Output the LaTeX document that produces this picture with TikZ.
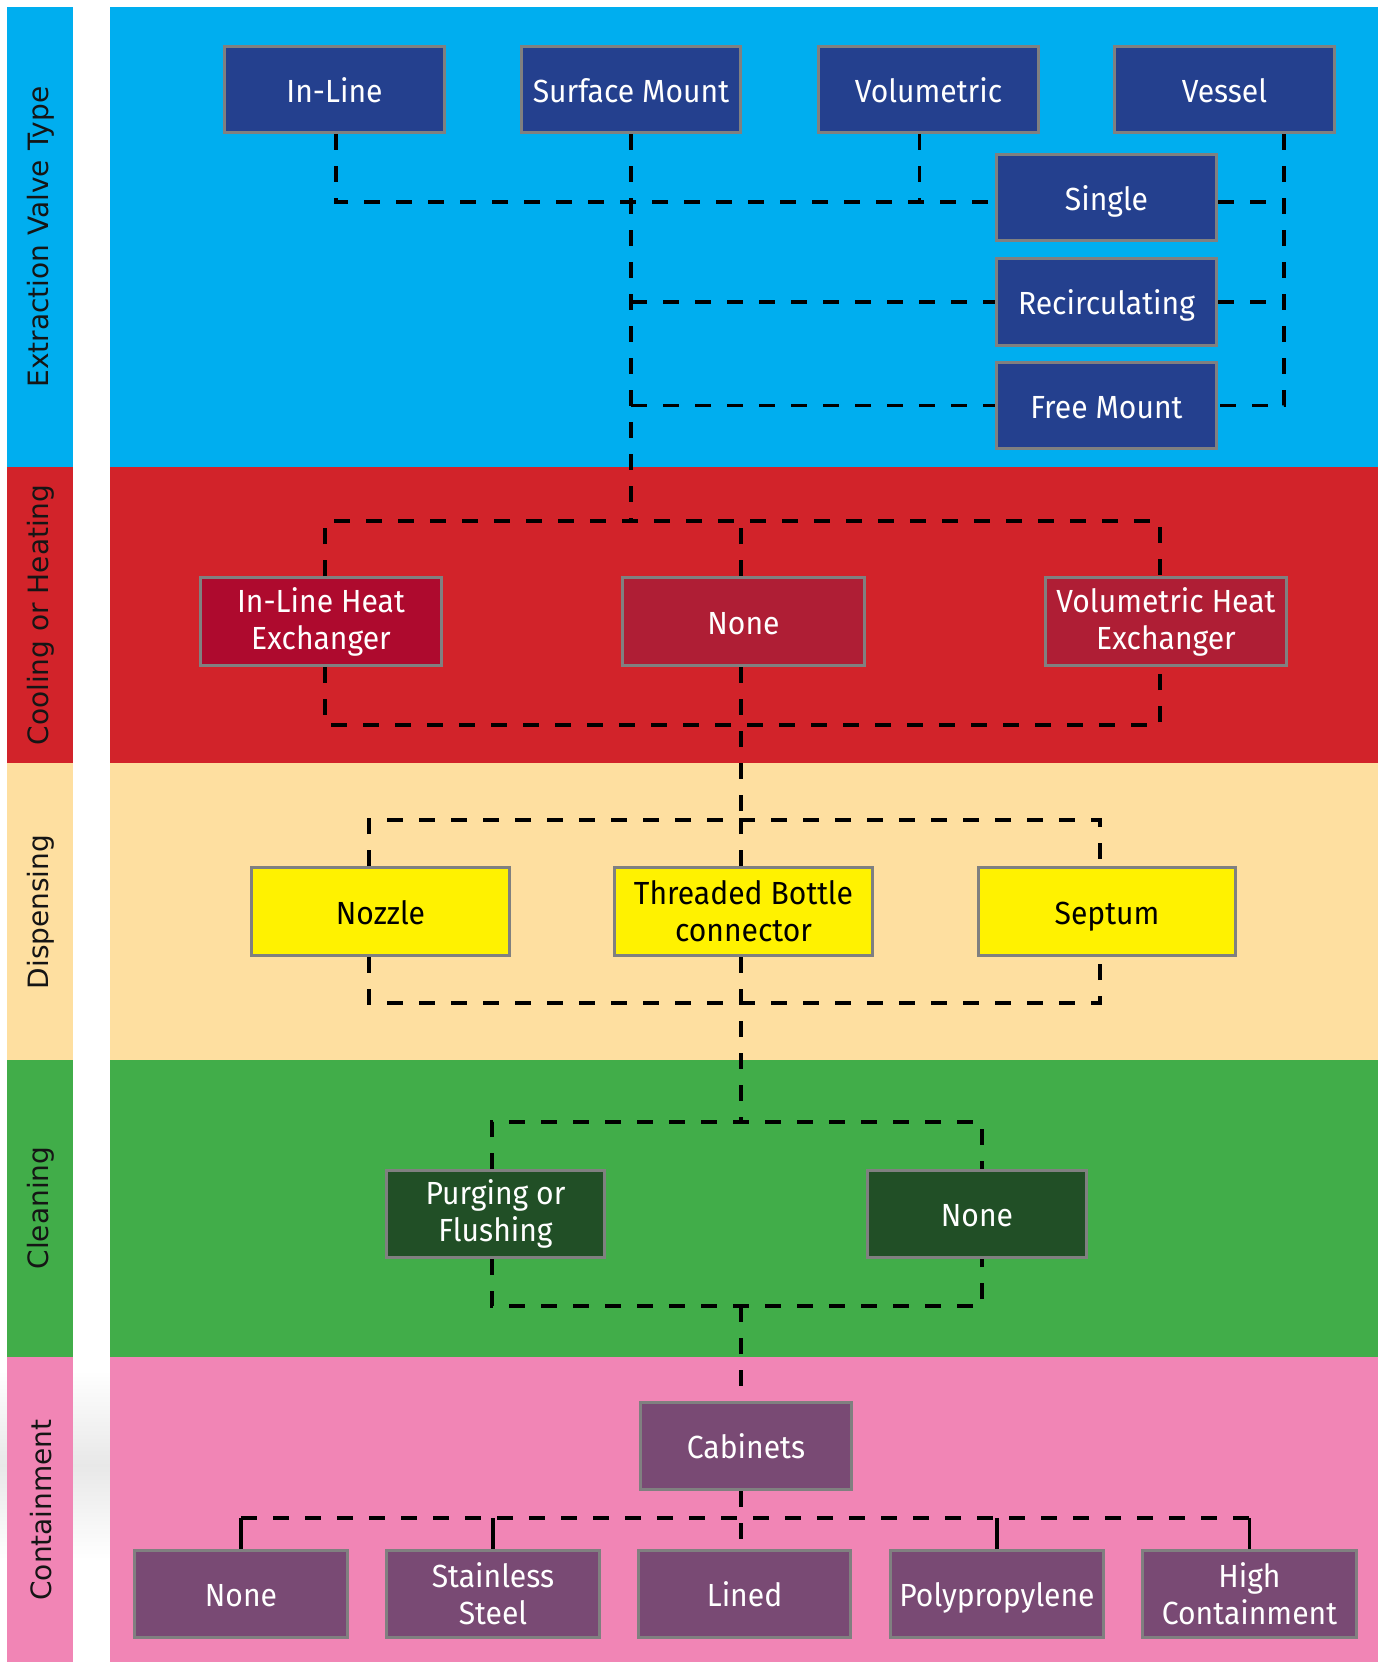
\documentclass[tikz,border=0pt]{standalone}
\usepackage{fontspec}
\setmainfont[FakeStretch=0.94]{Fira Sans}
\newfontfamily\labelfont{DejaVu Sans}
\definecolor{bandblue}{HTML}{00AEEF}
\definecolor{bandred}{HTML}{D2232A}
\definecolor{bandyellow}{HTML}{FEDFA0}
\definecolor{bandgreen}{HTML}{41AD49}
\definecolor{bandpink}{HTML}{F185B5}
\definecolor{boxblue}{HTML}{24408E}
\definecolor{boxredA}{HTML}{AE0A2E}
\definecolor{boxredB}{HTML}{AF1E35}
\definecolor{boxyellow}{HTML}{FFF200}
\definecolor{boxgreen}{HTML}{214F26}
\definecolor{boxpurple}{HTML}{794A74}
\definecolor{boxgray}{HTML}{808080}
\definecolor{labeltext}{HTML}{151515}
\begin{document}
\begin{tikzpicture}[x=0.5pt,y=-0.5pt,
  sz/.style 2 args={minimum width=(#1-3)*0.5pt, minimum height=(#2-3)*0.5pt},
  anybox/.style={draw=boxgray, line width=1.5pt, inner sep=1pt, align=center,
    font=\fontsize{16}{18.5}\selectfont, text=white},
  oneline/.style={text height=12.5pt, text depth=0pt},
  bluebox/.style={anybox, fill=boxblue},
  redboxA/.style={anybox, fill=boxredA},
  redboxB/.style={anybox, fill=boxredB},
  yelbox/.style={anybox, fill=boxyellow, text=black},
  grnbox/.style={anybox, fill=boxgreen},
  purbox/.style={anybox, fill=boxpurple},
  sidelabel/.style={rotate=90, text=labeltext, inner sep=0pt,
    font=\labelfont\fontsize{14}{16}\selectfont},
  dashline/.style={line width=1.6pt, dash pattern=on 8pt off 8pt},
  stubline/.style={line width=1.6pt}]
\useasboundingbox (0,0) rectangle (1378,1662);
\fill[white] (0,0) rectangle (1378,1662);
\shade[top color=white, bottom color=white, middle color=black!9] (0,1370) rectangle (110,1560);
% bands
\fill[bandblue] (7,7) rectangle (73,467);
\fill[bandblue] (110,7) rectangle (1378,467);
\fill[bandred] (7,467) rectangle (73,763);
\fill[bandred] (110,467) rectangle (1378,763);
\fill[bandyellow] (7,763) rectangle (73,1060);
\fill[bandyellow] (110,763) rectangle (1378,1060);
\fill[bandgreen] (7,1060) rectangle (73,1357);
\fill[bandgreen] (110,1060) rectangle (1378,1357);
\fill[bandpink] (7,1357) rectangle (73,1662);
\fill[bandpink] (110,1357) rectangle (1378,1662);
% side labels
\node[sidelabel] (labA) at (41,237) {Extraction Valve Type};
\node[sidelabel] (labB) at (41,615) {Cooling or Heating};
\node[sidelabel] (labC) at (41,912) {Dispensing};
\node[sidelabel] (labD) at (41,1208) {Cleaning};
\node[sidelabel] (labE) at (41,1510) {Containment};
% helper coordinates
\coordinate (xin) at (336,0);
\coordinate (xsm) at (631,0);
\coordinate (xvol) at (919.5,0);
\coordinate (xves) at (1284,0);
\coordinate (ysgl) at (0,202);
\coordinate (xC) at (741,0);
\coordinate (xL1) at (325,0);
\coordinate (xR1) at (1160,0);
\coordinate (yt1) at (0,521);
\coordinate (yb1) at (0,725);
\coordinate (xL2) at (369,0);
\coordinate (xR2) at (1100,0);
\coordinate (yt2) at (0,820);
\coordinate (yb2) at (0,1003);
\coordinate (xL3) at (492,0);
\coordinate (xR3) at (982,0);
\coordinate (yt3) at (0,1122);
\coordinate (yb3) at (0,1306);
\coordinate (yb4) at (0,1518);
% top section nodes
\node[bluebox, oneline, sz={223}{89}] (inl) at (334.5,89.5) {In-Line};
\node[bluebox, oneline, sz={222}{89}] (sm) at (631,89.5) {Surface Mount};
\node[bluebox, oneline, sz={223}{89}] (vol) at (928.5,89.5) {Volumetric};
\node[bluebox, oneline, sz={223}{89}] (ves) at (1224.5,89.5) {Vessel};
\node[bluebox, oneline, sz={223}{89}] (sgl) at (1106.5,197.5) {Single};
\node[bluebox, oneline, sz={223}{90}] (rec) at (1106.5,302) {Recirculating};
\node[bluebox, oneline, sz={223}{89}] (fm) at (1106.5,405.5) {Free Mount};
% top connectors
\draw[dashline] (inl.south -| xin) |- (sgl.west |- ysgl);
\draw[dashline] (vol.south -| xvol) -- (ysgl -| xvol);
\draw[dashline] (sm.south -| xsm) -- (yt1 -| xsm);
\draw[dashline] (rec.west -| xsm) -- (rec.west);
\draw[dashline] (fm.west -| xsm) -- (fm.west);
\draw[dashline] (ves.south -| xves) -- (fm.east -| xves) -- (fm.east);
\draw[dashline] (sgl.east |- ysgl) -- (ysgl -| xves);
\draw[dashline] (rec.east) -- (rec.east -| xves);
% cooling / heating
\node[redboxA, sz={243.5}{91}] (ilh) at (321,621.5) {In-Line Heat\\Exchanger};
\node[redboxB, oneline, sz={245}{91}] (rnone) at (743.5,621.5) {None};
\node[redboxB, sz={244}{91}] (vhe) at (1166,621.5) {Volumetric Heat\\Exchanger};
\draw[dashline] (ilh.north -| xL1) -- (xL1 |- yt1) -- (xR1 |- yt1) -- (vhe.north -| xR1);
\draw[dashline] (rnone.north -| xC) -- (xC |- yt1);
\draw[dashline] (ilh.south -| xL1) -- (xL1 |- yb1) -- (xR1 |- yb1) -- (vhe.south -| xR1);
\draw[dashline] (rnone.south -| xC) -- (xC |- yt2);
% dispensing
\node[yelbox, oneline, sz={261}{91}] (noz) at (380.5,911.5) {Nozzle};
\node[yelbox, sz={261}{91}] (thr) at (743.5,911.5) {Threaded Bottle\\connector};
\node[yelbox, oneline, sz={260}{91}] (sep) at (1107,911.5) {Septum};
\draw[dashline] (noz.north -| xL2) -- (xL2 |- yt2) -- (xR2 |- yt2) -- (sep.north -| xR2);
\draw[dashline] (thr.north -| xC) -- (xC |- yt2);
\draw[dashline] (noz.south -| xL2) -- (xL2 |- yb2) -- (xR2 |- yb2) -- (sep.south -| xR2);
\draw[dashline] (thr.south -| xC) -- (xC |- yt3);
% cleaning
\node[grnbox, sz={221}{90}] (pur) at (495.5,1214) {Purging or\\Flushing};
\node[grnbox, oneline, sz={222}{90}] (cnone) at (977,1214) {None};
\draw[dashline] (pur.north -| xL3) -- (xL3 |- yt3) -- (xR3 |- yt3) -- (cnone.north -| xR3);
\draw[dashline] (pur.south -| xL3) -- (xL3 |- yb3) -- (xR3 |- yb3) -- (cnone.south -| xR3);
% containment
\node[purbox, oneline, sz={214}{90}] (cab) at (746,1446) {Cabinets};
\draw[dashline] (xC |- yb3) -- (cab.north -| xC);
\node[purbox, oneline, sz={216}{90}] (cn) at (241,1594) {None};
\node[purbox, sz={216}{90}] (ss) at (493,1594) {Stainless\\Steel};
\node[purbox, oneline, sz={215}{90}] (lin) at (744.5,1594) {Lined};
\node[purbox, oneline, sz={216}{90}] (pp) at (997,1594) {Polypropylene};
\node[purbox, sz={217}{90}] (hc) at (1249.5,1594) {High\\Containment};
\draw[dashline] (cab.south -| xC) -- (lin.north -| xC);
\draw[dashline] (cn.north |- yb4) -- (hc.north |- yb4);
\draw[stubline] (cn.north) -- (cn.north |- yb4);
\draw[stubline] (ss.north) -- (ss.north |- yb4);
\draw[stubline] (pp.north) -- (pp.north |- yb4);
\draw[stubline] (hc.north) -- (hc.north |- yb4);
\end{tikzpicture}
\end{document}
